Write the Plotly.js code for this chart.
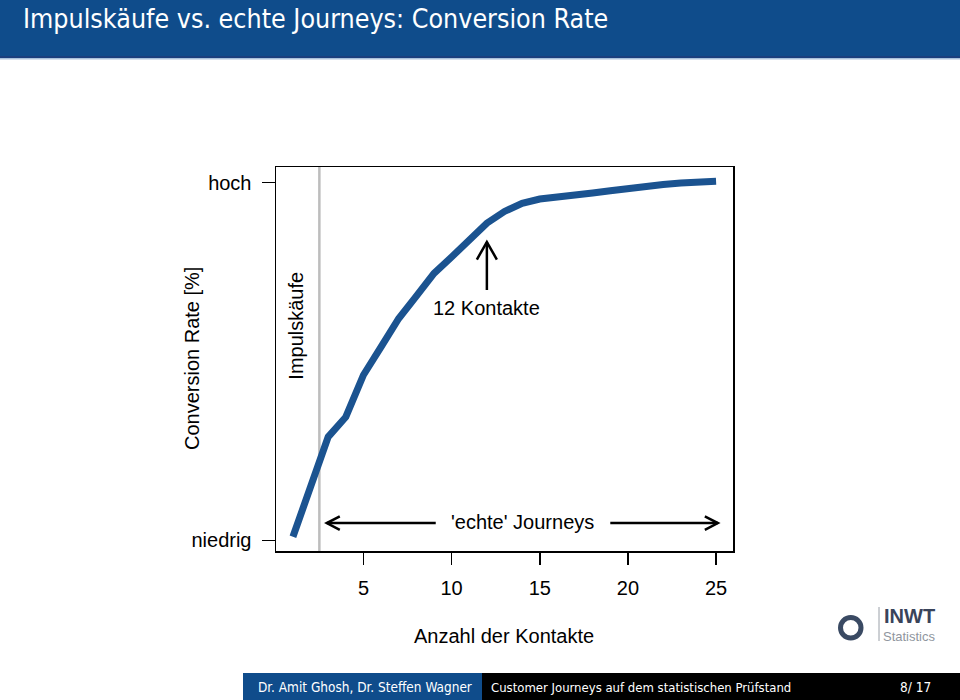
<!DOCTYPE html>
<html>
<head>
<meta charset="utf-8">
<script src="https://cdn.plot.ly/plotly-3.0.1.min.js"></script>
<style>
html,body{margin:0;padding:0;background:#fff;}
#chart{width:960px;height:700px;}
</style>
</head>
<body>
<div id="chart"></div>
<script>
// ---- data ----
const kontakte = [1,2,3,4,5,6,7,8,9,10,11,12,13,14,15,16,17,18,19,20,21,22,23,24,25];
const conversion = [0,14.5,28.1,33.7,45.5,53.4,61.4,67.7,74.1,78.7,83.7,88.2,91.5,93.8,95.0,95.7,96.1,96.7,97.3,98.0,98.5,99.1,99.5,99.7,100];
const xTickVals = [5,10,15,20,25];
const yTickVals = [-1,99.6];
const yTickText = ['niedrig','hoch'];
const impulsGrenze = 2.5;

// ---- geometry helpers (plot area in px) ----
const L = 276, R = 733, T = 167, B = 551;
const W = R - L, H = B - T;
const xRange = [0.04, 25.96], yRange = [-4, 104];
const pxX = px => (px - L) / W;      // paper x
const pxY = py => (B - py) / H;      // paper y
const dxPx = (xRange[1]-xRange[0]) / W;
const dyPx = (yRange[1]-yRange[0]) / H;

const FONT = 'Liberation Sans, Arial, Helvetica, sans-serif';
const BEAMER = 'DejaVu Sans Condensed, Liberation Sans Narrow, Liberation Sans, sans-serif';
const blue = '#0f4c8b';

const traces = [{
  x: kontakte, y: conversion, type: 'scatter', mode: 'lines',
  line: {color: '#1b5390', width: 7}, hoverinfo: 'skip', showlegend: false
}];

function arrowLine(x0,y0,x1,y1){
  return {type:'line', xref:'x', yref:'y', x0:x0, y0:y0, x1:x1, y1:y1, line:{color:'#000', width:2.5}};
}
function chevron(pts){
  const d = 'M' + pts.map(p => p[0] + ',' + p[1]).join(' L');
  return {type:'path', xref:'x', yref:'y', path:d, line:{color:'#000', width:2.5}};
}
function prect(x0,y0,x1,y1,color){
  return {type:'rect', xref:'paper', yref:'paper', x0:pxX(x0), x1:pxX(x1), y0:pxY(y1), y1:pxY(y0), fillcolor:color, line:{width:0}, layer:'below'};
}

// arrows
const upX = 12, upTail = 69.4, upTip = 82.9;
const hy = 3.85, lTip = 2.92, lTail = 9.1, rTail = 19.0, rTip = 25.1;

const shapes = [
  // title bar
  prect(0,0,960,58,blue),
  prect(0,56,960,58,'#1a3f7e'),
  prect(0,58,960,59.5,'#a9c1db'),
  // footer
  prect(243,673,482,700,blue),
  prect(482,673,960,700,'#000'),
  // Impulskäufe boundary
  {type:'line', xref:'x', yref:'paper', x0:impulsGrenze, x1:impulsGrenze, y0:0, y1:1, line:{color:'#bdbdbd', width:2.5}, layer:'below'},
  // up arrow
  arrowLine(upX, upTail, upX, upTip),
  chevron([[upX-10*dxPx, upTip-17.5*dyPx],[upX, upTip],[upX+10*dxPx, upTip-17.5*dyPx]]),
  // left arrow
  arrowLine(lTail, hy, lTip, hy),
  chevron([[lTip+13*dxPx, hy+6.7*dyPx],[lTip, hy],[lTip+13*dxPx, hy-6.7*dyPx]]),
  // right arrow
  arrowLine(rTail, hy, rTip, hy),
  chevron([[rTip-13*dxPx, hy+6.7*dyPx],[rTip, hy],[rTip-13*dxPx, hy-6.7*dyPx]]),
  // logo ring
  {type:'circle', xref:'paper', yref:'paper', x0:pxX(840.5), x1:pxX(861), y0:pxY(638), y1:pxY(617.5), line:{color:'#3a4a63', width:5}},
  {type:'line', xref:'paper', yref:'paper', x0:pxX(879), x1:pxX(879), y0:pxY(607), y1:pxY(641), line:{color:'#9aa0a8', width:1}}
];

function ann(text, x, y, font, extra){
  return Object.assign({text:text, xref:'paper', yref:'paper', x:pxX(x), y:pxY(y), xanchor:'center', yanchor:'middle', showarrow:false, font:font}, extra||{});
}

const annotations = [
  ann('Impulskäufe vs. echte Journeys: Conversion Rate', 21, 19, {family:BEAMER, size:26.6, color:'#fff'}, {xanchor:'left'}),
  {text:'12 Kontakte', xref:'x', yref:'y', x:12, y:64.3, xanchor:'center', yanchor:'middle', showarrow:false, font:{family:FONT, size:20, color:'#000'}},
  {text:"'echte' Journeys", xref:'x', yref:'y', x:14.0, y:4.1, xanchor:'center', yanchor:'middle', showarrow:false, font:{family:FONT, size:20, color:'#000'}},
  {text:'Impulskäufe', xref:'x', yref:'y', x:1.2, y:59.5, xanchor:'center', yanchor:'middle', textangle:-90, showarrow:false, font:{family:FONT, size:20, color:'#000'}},
  ann('Conversion Rate [%]', 192, 359, {family:FONT, size:20, color:'#000'}, {textangle:-90}),
  ann('Anzahl der Kontakte', 504, 636, {family:FONT, size:20, color:'#000'}),
  ann('Dr. Amit Ghosh, Dr. Steffen Wagner', 256, 687, {family:BEAMER, size:13.5, color:'#fff'}, {xanchor:'left'}),
  ann('Customer Journeys auf dem statistischen Prüfstand', 489, 687, {family:BEAMER, size:13, color:'#fff'}, {xanchor:'left'}),
  ann('8/ 17', 933, 687, {family:BEAMER, size:13.5, color:'#fff'}, {xanchor:'right'}),
  ann('<b>INWT</b>', 882, 616, {family:FONT, size:20, color:'#39445a'}, {xanchor:'left'}),
  ann('Statistics', 881, 636.5, {family:FONT, size:13, color:'#8f969e'}, {xanchor:'left'})
];

const layout = {
  width:960, height:700,
  margin:{l:L, r:960-R, t:T, b:700-B, pad:0},
  paper_bgcolor:'#fff', plot_bgcolor:'#fff',
  showlegend:false,
  xaxis:{range:xRange, showgrid:false, zeroline:false, showline:true, mirror:true, linecolor:'#000', linewidth:1.5,
         tickmode:'array', tickvals:xTickVals, ticks:'outside', ticklen:12, tickwidth:1.5, tickcolor:'#000',
         ticklabelstandoff:6, tickfont:{family:FONT, size:20, color:'#000'}},
  yaxis:{range:yRange, showgrid:false, zeroline:false, showline:true, mirror:true, linecolor:'#000', linewidth:1.5,
         tickmode:'array', tickvals:yTickVals, ticktext:yTickText, ticks:'outside', ticklen:13, tickwidth:1.5, tickcolor:'#000',
         ticklabelstandoff:6, tickfont:{family:FONT, size:20, color:'#000'}},
  shapes:shapes, annotations:annotations
};

Plotly.newPlot('chart', traces, layout, {staticPlot:true, displayModeBar:false});
</script>
</body>
</html>
